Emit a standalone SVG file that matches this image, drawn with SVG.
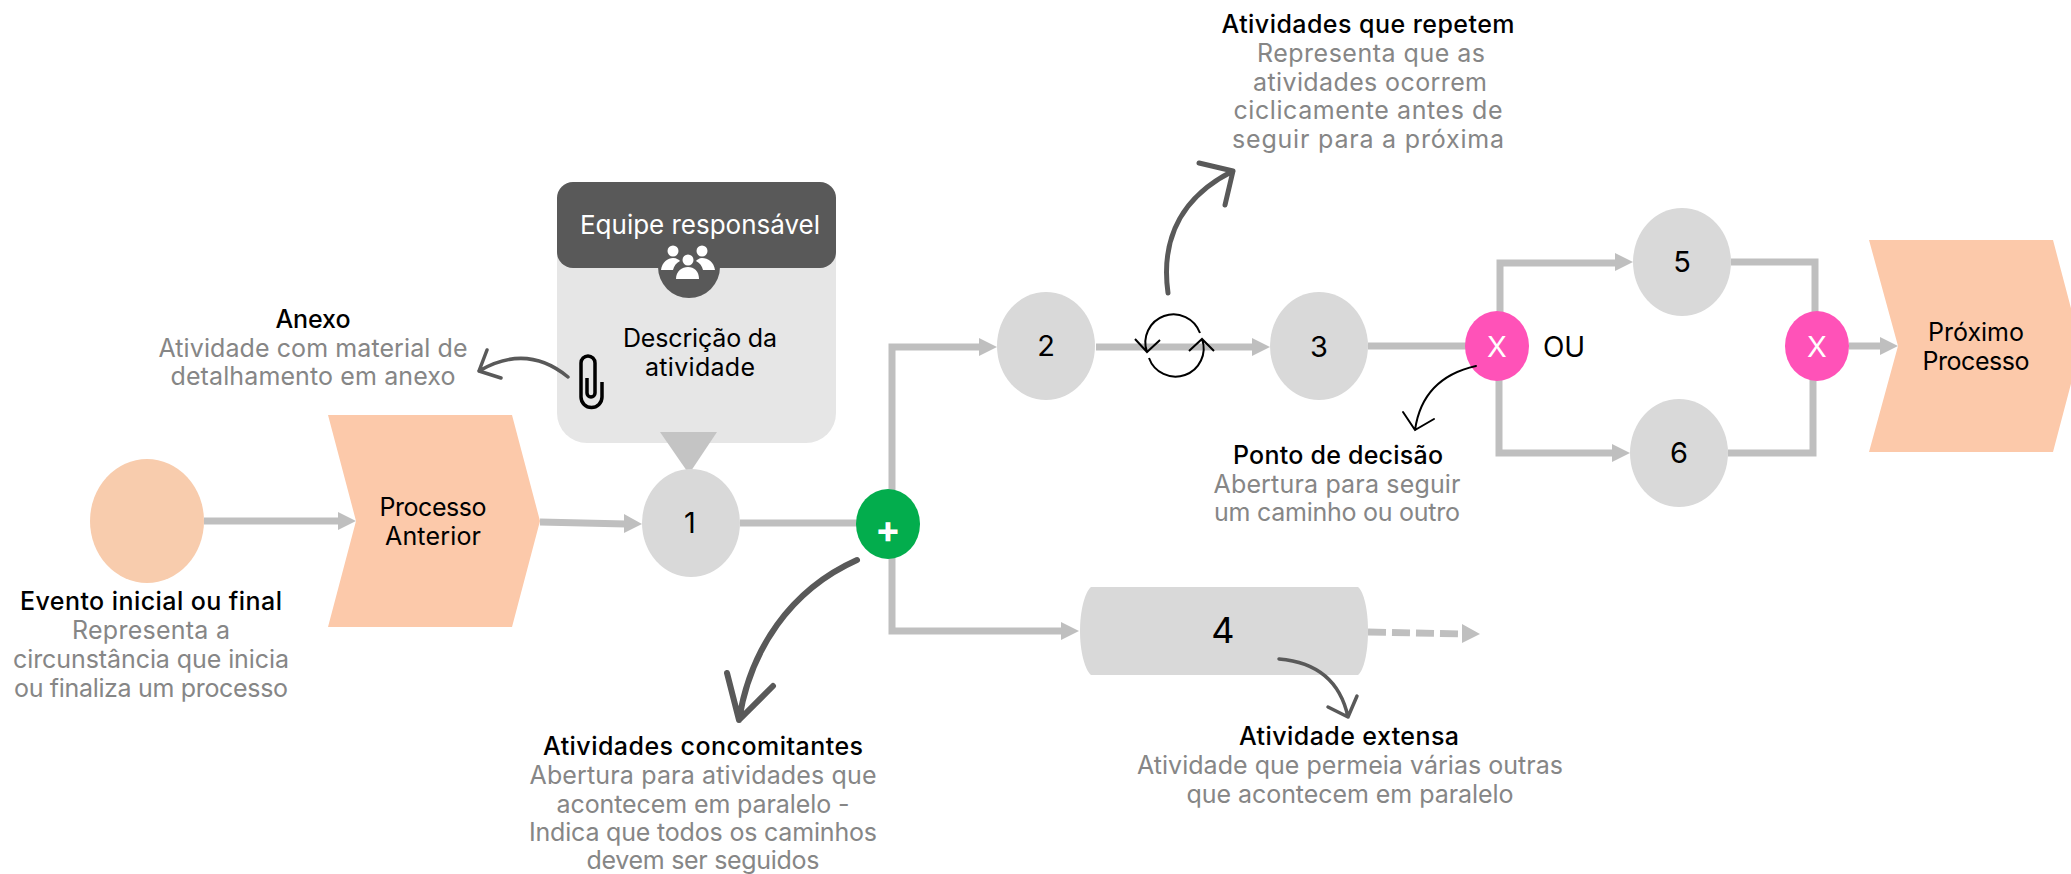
<svg xmlns="http://www.w3.org/2000/svg" width="2071" height="874" viewBox="0 0 2071 874">
<defs>
<style>
text{font-family:"Inter","Liberation Sans",sans-serif;text-anchor:middle}
.h{font-size:25px;font-weight:500;fill:#000}
.g{font-size:25px;fill:#868686}
.n{font-size:25px;fill:#000}
.num{font-size:29px;fill:#000}
.w{font-size:26px;fill:#fff}
.x{font-size:29px;fill:#fff}
.act{fill:#d9d9d9}
.proc{fill:#fcc9aa}
.xor{fill:#ff52b8}
.c{fill:none;stroke:#bfbfbf;stroke-width:7}
.a{fill:#bfbfbf}
.k{fill:none;stroke:#595959;stroke-linecap:round;stroke-linejoin:round}
.b{fill:none;stroke:#000;stroke-width:2}
</style>
</defs>
<rect width="2071" height="874" fill="#fff"/>
<g id="connectors">
<path class="c" d="M204 521H340"/><path class="a" d="M338 512L356 521L338 530Z"/>
<path class="c" d="M540 522L626 524"/><path class="a" d="M624 514L642 524L624 533Z"/>
<path class="c" d="M740 523H860"/>
<path class="c" d="M892 490V347H980"/><path class="a" d="M979 338L997 347L979 356Z"/>
<path class="c" d="M892 555V631H1064"/><path class="a" d="M1061 622L1079 631L1061 640Z"/>
<path class="c" d="M1368 632L1464 634" stroke-dasharray="18 6"/><path class="a" d="M1462 624L1480 634L1462 643Z"/>
<path class="c" d="M1096 347H1254"/><path class="a" d="M1252 338L1270 347L1252 356Z"/>
<path class="c" d="M1368 346H1470"/>
<path class="c" d="M1500 315V263H1617"/><path class="a" d="M1615 253L1633 262L1615 271Z"/>
<path class="c" d="M1499 378V453H1614"/><path class="a" d="M1612 444L1630 453L1612 462Z"/>
<path class="c" d="M1731 262H1815V315"/>
<path class="c" d="M1728 453H1813V378"/>
<path class="c" d="M1849 346H1882"/><path class="a" d="M1880 337L1898 346L1880 355Z"/>
</g>
<g id="loop">
<path class="b" d="M1147 352A28 28 0 0 1 1200 333M1135 339L1147 352L1160 340"/>
<path class="b" d="M1149 358A28 28 0 0 0 1202 339M1189 351L1202 339L1214 351"/>
</g>
<g id="evento"><ellipse class="proc" cx="147" cy="521" rx="57" ry="62" style="fill:#f8ccad"/></g>
<g id="processo-anterior"><path class="proc" d="M328 415H512L540 521L512 627H328L356 521Z"/><text class="n" x="433" y="516" textLength="107">Processo</text><text class="n" x="433" y="545" textLength="96">Anterior</text></g>
<g id="card">
<path d="M557 250H836V413A30 30 0 0 1 806 443H587A30 30 0 0 1 557 413Z" fill="#e6e6e6"/>
<circle cx="689" cy="267" r="31" fill="#595959"/>
<rect x="557" y="182" width="279" height="86" rx="16" fill="#595959"/>
<text class="w" x="700" y="234" textLength="240">Equipe responsável</text>
<g fill="#fff"><circle cx="673" cy="251" r="5.500"/><circle cx="702" cy="251" r="5.500"/><circle cx="688" cy="260" r="5.500"/>
<path d="M661 270C662 262 668 258 673 258C677 258 679 260 680 261C676 263 674 266 673 270Z"/>
<path d="M715 270C714 262 708 258 702 258C699 258 697 260 696 261C700 263 702 266 703 270Z"/>
<path d="M676 279C676 271 682 267 688 267C694 267 699 271 699 279Z"/></g>
<text class="n" x="700" y="347" textLength="154">Descrição da</text><text class="n" x="700" y="376" textLength="110">atividade</text>
<path d="M602 382V397A10.500 10.500 0 0 1 581 397V363A7 7 0 0 1 595 363V393A4 4 0 0 1 587 393V378" fill="none" stroke="#000" stroke-width="3.500"/>
<path d="M660 432H717L689 474Z" fill="#c4c4c4"/>
</g>
<g id="n1"><ellipse class="act" cx="691" cy="523" rx="49" ry="54"/><text class="num" x="690" y="533">1</text></g>
<g id="gw-and"><ellipse cx="888" cy="524" rx="32" ry="35" fill="#03ad4d"/><text x="888" y="543" font-size="38" font-weight="700" fill="#fff">+</text></g>
<g id="n2"><ellipse class="act" cx="1046" cy="346" rx="49" ry="54"/><text class="num" x="1046" y="356">2</text></g>
<g id="n3"><ellipse class="act" cx="1319" cy="346" rx="49" ry="54"/><text class="num" x="1319" y="357">3</text></g>
<g id="n4"><path class="act" d="M1091 587H1358C1364 592 1368 610 1368 631C1368 652 1364 670 1358 675H1091C1085 670 1080 652 1080 631C1080 610 1085 592 1091 587Z"/><text class="num" x="1223" y="643" style="font-size:36px">4</text></g>
<g id="n5"><ellipse class="act" cx="1682" cy="262" rx="49" ry="54"/><text class="num" x="1682" y="272">5</text></g>
<g id="n6"><ellipse class="act" cx="1679" cy="453" rx="49" ry="54"/><text class="num" x="1679" y="463">6</text></g>
<g id="gw-xor1"><ellipse class="xor" cx="1497" cy="346" rx="32" ry="35"/><text class="x" x="1497" y="357">X</text></g>
<g id="gw-xor2"><ellipse class="xor" cx="1817" cy="346" rx="32" ry="35"/><text class="x" x="1817" y="357">X</text></g>
<g id="proximo"><path class="proc" d="M1869 240H2053L2081 346L2053 452H1869L1898 346Z"/><text class="n" x="1976" y="341" textLength="96">Próximo</text><text class="n" x="1976" y="370" textLength="107">Processo</text></g>
<g id="annotation-arrows">
<path class="k" stroke-width="5" d="M1168 293C1160 235 1185 195 1233 171M1199 163L1233 171L1225 205"/>
<path class="k" stroke-width="6" d="M857 560C790 590 750 650 739 720M727 673L739 720L773 686"/>
<path class="k" stroke-width="3.500" d="M1279 659C1315 662 1340 680 1348 717M1328 707L1348 717L1357 696"/>
<path class="k" stroke-width="3.500" d="M568 377C545 358 515 350 479 371M487 350L479 371L501 378"/>
<path class="b" stroke-linecap="round" d="M1476 366C1440 374 1420 395 1415 430M1403 412L1415 430L1434 419"/>
</g>
<g id="labels">
<text class="n" x="1564" y="357" style="font-size:28px" textLength="42">OU</text>
<text class="h" x="313" y="328" textLength="75">Anexo</text><text class="g" x="313" y="357" textLength="309">Atividade com material de</text><text class="g" x="313" y="385" textLength="285">detalhamento em anexo</text>
<text class="h" x="151" y="610" textLength="262">Evento inicial ou final</text><text class="g" x="151" y="639" textLength="158">Representa a</text><text class="g" x="151" y="668" textLength="276">circunstância que inicia</text><text class="g" x="151" y="697" textLength="274">ou finaliza um processo</text>
<text class="h" x="703" y="755" textLength="320">Atividades concomitantes</text><text class="g" x="703" y="784" textLength="347">Abertura para atividades que</text><text class="g" x="703" y="813" textLength="293">acontecem em paralelo -</text><text class="g" x="703" y="841" textLength="348">Indica que todos os caminhos</text><text class="g" x="703" y="869" textLength="233">devem ser seguidos</text>
<text class="h" x="1349" y="745" textLength="220">Atividade extensa</text><text class="g" x="1350" y="774" textLength="426">Atividade que permeia várias outras</text><text class="g" x="1350" y="803" textLength="327">que acontecem em paralelo</text>
<text class="h" x="1338" y="464" textLength="210">Ponto de decisão</text><text class="g" x="1337" y="493" textLength="247">Abertura para seguir</text><text class="g" x="1337" y="521" textLength="246">um caminho ou outro</text>
<text class="h" x="1368" y="33" textLength="293">Atividades que repetem</text><text class="g" x="1371" y="62" textLength="228">Representa que as</text><text class="g" x="1370" y="91" textLength="234">atividades ocorrem</text><text class="g" x="1368" y="119" textLength="269">ciclicamente antes de</text><text class="g" x="1368" y="148" textLength="272">seguir para a próxima</text>
</g>
</svg>
